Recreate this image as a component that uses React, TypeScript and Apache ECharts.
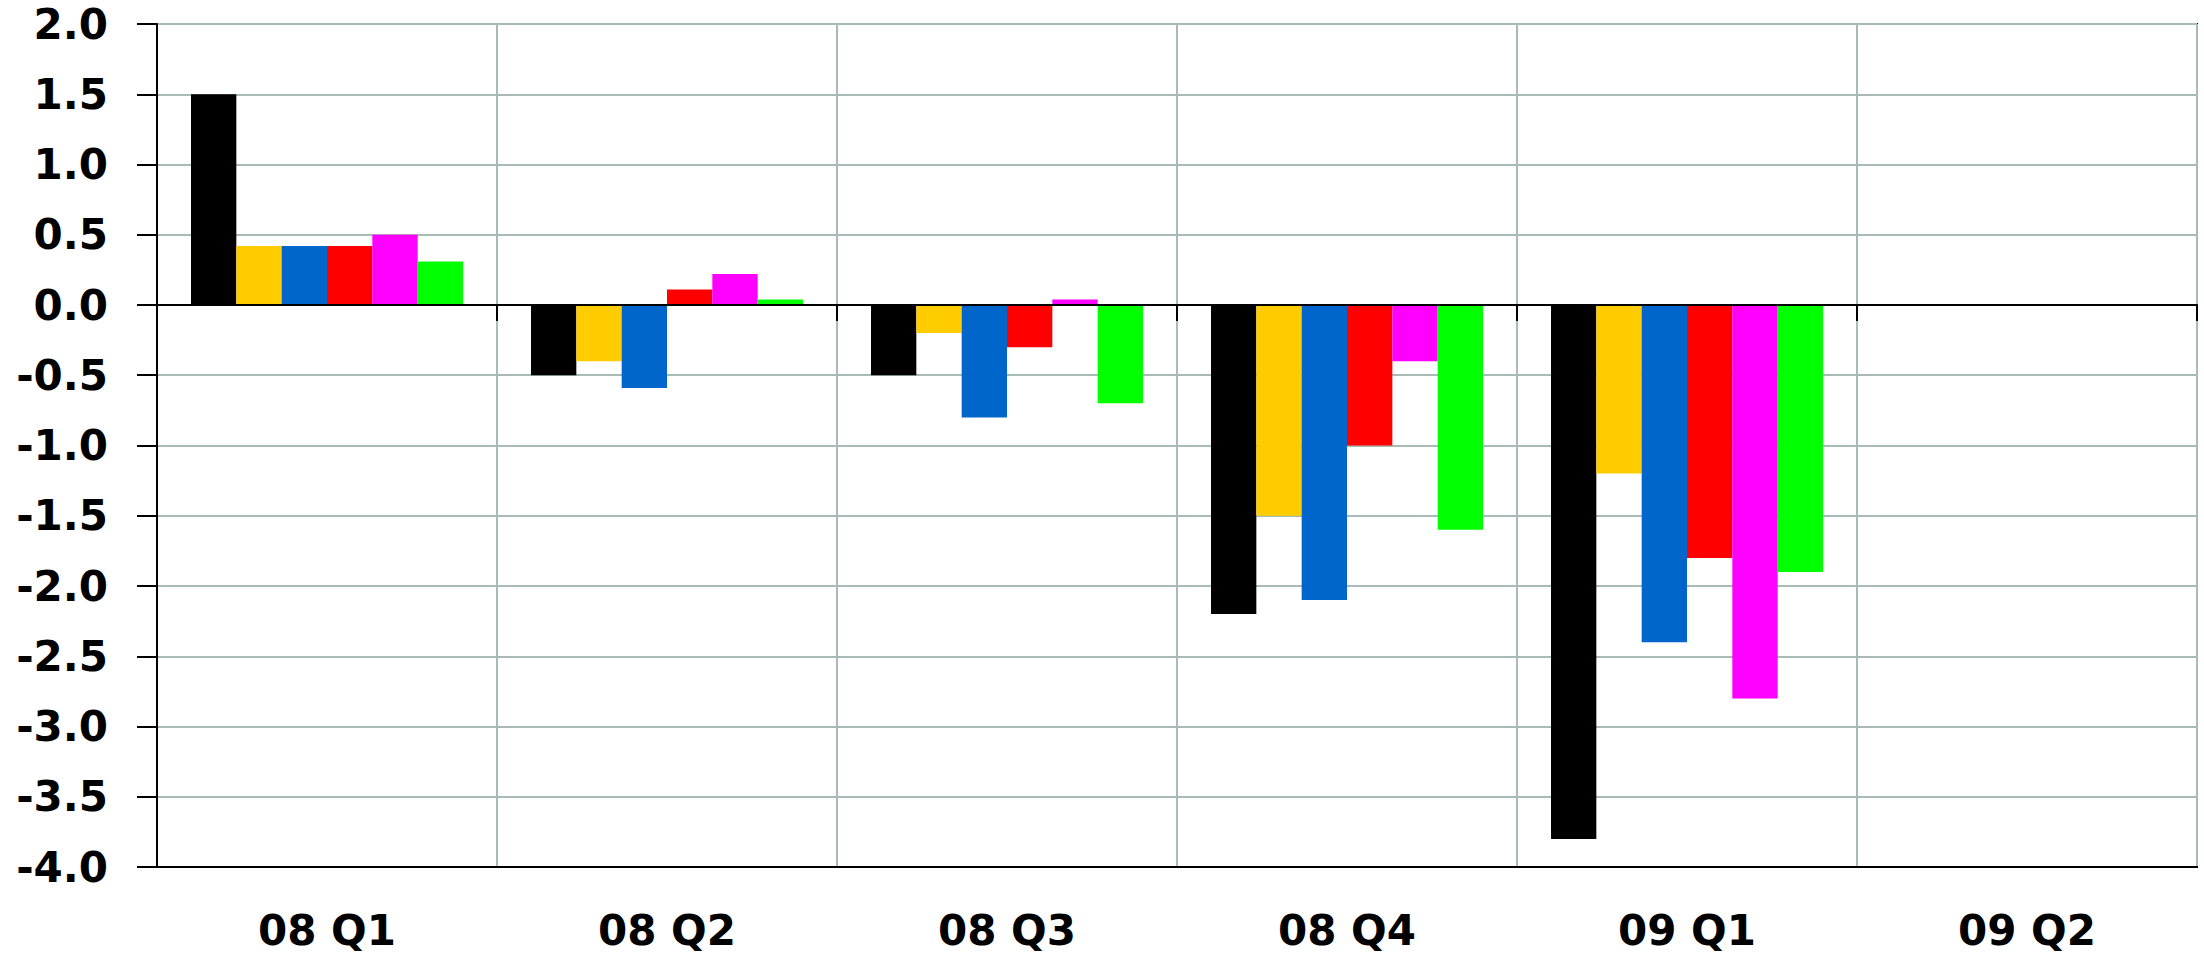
import React, { useEffect, useRef } from "react";
import * as echarts from "echarts";

const categories = ["08 Q1", "08 Q2", "08 Q3", "08 Q4", "09 Q1", "09 Q2"];
const seriesBlack = [1.5, -0.5, -0.5, -2.2, -3.8, null];
const seriesGold = [0.42, -0.4, -0.2, -1.5, -1.2, null];
const seriesBlue = [0.42, -0.59, -0.8, -2.1, -2.4, null];
const seriesRed = [0.42, 0.11, -0.3, -1.0, -1.8, null];
const seriesMagenta = [0.5, 0.22, 0.04, -0.4, -2.8, null];
const seriesGreen = [0.31, 0.04, -0.7, -1.6, -1.9, null];
const yTicks = { min: -4, max: 2, interval: 0.5 };

const seriesList = [
  { name: "A", data: seriesBlack, color: "#000000" },
  { name: "B", data: seriesGold, color: "#FFCC00" },
  { name: "C", data: seriesBlue, color: "#0066CC" },
  { name: "D", data: seriesRed, color: "#FF0000" },
  { name: "E", data: seriesMagenta, color: "#FF00FF" },
  { name: "F", data: seriesGreen, color: "#00FF00" },
];

const FONT = "'DejaVu Sans', Arial, sans-serif";
const GRID_COLOR = "#A9BBB6";

export default function App() {
  const ref = useRef<HTMLDivElement>(null);
  useEffect(() => {
    if (!ref.current) return;
    const chart = echarts.init(ref.current, null, { renderer: "svg" });
    chart.setOption({
      animation: false,
      backgroundColor: "#ffffff",
      grid: {
        left: 157,
        top: 24,
        width: 2040,
        height: 843,
        show: true,
        borderColor: "#000000",
        borderWidth: 2,
        backgroundColor: "transparent",
      },
      xAxis: [
        {
          type: "category",
          data: categories,
          position: "bottom",
          axisLine: { onZero: false, show: true, lineStyle: { color: "#000", width: 2 } },
          axisTick: { show: false },
          axisLabel: {
            show: true,
            color: "#000",
            fontFamily: FONT,
            fontWeight: "bold",
            fontSize: 42,
            lineHeight: 38,
            verticalAlign: "middle",
            margin: 63,
            interval: 0,
          },
          splitLine: { show: true, interval: 0, lineStyle: { color: GRID_COLOR, width: 2 } },
        },
        {
          type: "category",
          data: categories,
          position: "bottom",
          z: 10,
          axisLine: { onZero: true, onZeroAxisIndex: 0, show: true, lineStyle: { color: "#000", width: 2 } },
          axisTick: { show: true, inside: false, length: 16, interval: 0, lineStyle: { color: "#000", width: 2 } },
          axisLabel: { show: false },
          splitLine: { show: false },
        },
      ],
      yAxis: {
        type: "value",
        min: yTicks.min,
        max: yTicks.max,
        interval: yTicks.interval,
        axisLine: { show: true, lineStyle: { color: "#000", width: 2 } },
        axisTick: { show: true, inside: false, length: 20, lineStyle: { color: "#000", width: 2 } },
        axisLabel: {
          color: "#000",
          fontFamily: FONT,
          fontWeight: "bold",
          fontSize: 42,
          margin: 49,
          formatter: (v: number) => v.toFixed(1),
        },
        splitLine: { show: true, lineStyle: { color: GRID_COLOR, width: 2 } },
      },
      series: seriesList.map((s) => ({
        type: "bar",
        name: s.name,
        data: s.data,
        xAxisIndex: 0,
        barGap: "0%",
        barCategoryGap: "20%",
        itemStyle: { color: s.color },
      })),
    });
    return () => chart.dispose();
  }, []);
  return (
    <div
      ref={ref}
      style={{ position: "fixed", left: 0, top: 0, width: 2204, height: 957 }}
    />
  );
}
